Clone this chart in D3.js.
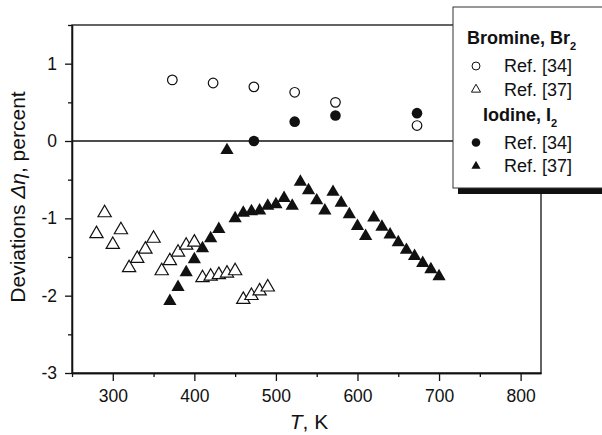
<!DOCTYPE html>
<html>
<head>
<meta charset="utf-8">
<script src="https://cdn.jsdelivr.net/npm/d3@7"></script>
<style>
  body { margin: 0; background: #fff; }
  svg { font-family: "Liberation Sans", Arial, sans-serif; }
  .axis path, .axis line { stroke: #111; stroke-width: 1.3; }
  .axis text { font-size: 17.5px; fill: #111; }
</style>
</head>
<body>
<div id="vis"></div>
<script>
// Bromine, Ref. [34]
var brT34 = [373, 423, 473, 523, 573, 673]
var brDev34 = [0.79, 0.75, 0.70, 0.63, 0.50, 0.20]
// Bromine, Ref. [37]
var brT37 = [280, 290, 300, 310, 320, 330, 340, 350, 360, 370, 380, 390, 400, 410, 420, 430, 440, 450, 460, 470, 480, 490]
var brDev37 = [-1.20, -0.93, -1.34, -1.15, -1.64, -1.52, -1.40, -1.26, -1.68, -1.55, -1.44, -1.35, -1.31, -1.77, -1.75, -1.73, -1.71, -1.68, -2.05, -2.00, -1.94, -1.89]
// Iodine, Ref. [34]
var iT34 = [473, 523, 573, 673]
var iDev34 = [0.00, 0.25, 0.33, 0.36]
// Iodine, Ref. [37]
var iT37 = [370, 380, 390, 400, 410, 420, 430, 440, 450, 460, 470, 480, 490, 500, 510, 520, 530, 540, 550, 560, 570, 580, 590, 600, 610, 620, 630, 640, 650, 660, 670, 680, 690, 700]
var iDev37 = [-2.07, -1.89, -1.70, -1.53, -1.39, -1.26, -1.14, -0.12, -1.00, -0.93, -0.91, -0.90, -0.84, -0.82, -0.74, -0.84, -0.53, -0.64, -0.77, -0.90, -0.66, -0.80, -0.95, -1.10, -1.23, -0.99, -1.11, -1.21, -1.31, -1.41, -1.49, -1.58, -1.66, -1.75]

var xTicks = [300, 400, 500, 600, 700, 800]
var xMinor = [250, 350, 450, 550, 650, 750]
var yTicks = [-3, -2, -1, 0, 1]
var yMinor = [-2.5, -1.5, -0.5, 0.5, 1.5]

var legendRows = [
  {label: "Ref. [34]", symbol: "circle", filled: false},
  {label: "Ref. [37]", symbol: "triangle", filled: false},
  {label: "Ref. [34]", symbol: "circle", filled: true},
  {label: "Ref. [37]", symbol: "triangle", filled: true}
]

var W = 602, H = 435
var margin = {top: 25, right: 61, bottom: 62, left: 72}

var svg = d3.select("#vis").append("svg")
    .attr("width", W)
    .attr("height", H)

var x = d3.scaleLinear().domain([250, 825]).range([margin.left, W - margin.right])
var y = d3.scaleLinear().domain([-3, 1.5]).range([H - margin.bottom, margin.top])

function zip(a, b) { return a.map(function(v, i) { return {t: v, d: b[i]} }) }

// frame (top and right edges) + zero line
svg.append("rect")
    .attr("x", x(250)).attr("y", y(1.5))
    .attr("width", x(825) - x(250)).attr("height", y(-3) - y(1.5))
    .attr("fill", "none").attr("stroke", "#111").attr("stroke-width", 1.3)

svg.append("line")
    .attr("x1", x(250)).attr("x2", x(825))
    .attr("y1", y(0)).attr("y2", y(0))
    .attr("stroke", "#111").attr("stroke-width", 1.3)

// axes: minor then major
svg.append("g").attr("class", "axis")
    .attr("transform", "translate(0," + y(-3) + ")")
    .call(d3.axisBottom(x).tickValues(xMinor).tickSize(4).tickFormat("").tickSizeOuter(0))
svg.append("g").attr("class", "axis")
    .attr("transform", "translate(0," + y(-3) + ")")
    .call(d3.axisBottom(x).tickValues(xTicks).tickSize(8).tickPadding(9).tickSizeOuter(0))

svg.append("g").attr("class", "axis")
    .attr("transform", "translate(" + x(250) + ",0)")
    .call(d3.axisLeft(y).tickValues(yMinor).tickSize(4).tickFormat("").tickSizeOuter(0))
svg.append("g").attr("class", "axis")
    .attr("transform", "translate(" + x(250) + ",0)")
    .call(d3.axisLeft(y).tickValues(yTicks).tickSize(7).tickPadding(8).tickSizeOuter(0)
        .tickFormat(function(d) { return String(d) }))

// axis titles
var yt = svg.append("text")
    .attr("transform", "translate(25,197) rotate(-90)")
    .attr("text-anchor", "middle")
    .style("font-size", "21px").style("fill", "#111")
yt.append("tspan").text("Deviations ")
yt.append("tspan").style("font-style", "italic").text("Δη")
yt.append("tspan").text(", percent")

var xt = svg.append("text")
    .attr("x", 309).attr("y", 429)
    .attr("text-anchor", "middle")
    .style("font-size", "21px").style("fill", "#111")
xt.append("tspan").style("font-style", "italic").text("T")
xt.append("tspan").text(", K")

// markers
var tri = d3.symbol().type(d3.symbolTriangle).size(76)

svg.append("g").selectAll("path")
    .data(zip(brT37, brDev37)).enter().append("path")
    .attr("d", tri)
    .attr("transform", function(d) { return "translate(" + x(d.t) + "," + y(d.d) + ")" })
    .attr("fill", "#fff").attr("stroke", "#111").attr("stroke-width", 1.2)

svg.append("g").selectAll("path")
    .data(zip(iT37, iDev37)).enter().append("path")
    .attr("d", tri)
    .attr("transform", function(d) { return "translate(" + x(d.t) + "," + y(d.d) + ")" })
    .attr("fill", "#111")

svg.append("g").selectAll("circle")
    .data(zip(brT34, brDev34)).enter().append("circle")
    .attr("cx", function(d) { return x(d.t) }).attr("cy", function(d) { return y(d.d) })
    .attr("r", 4.8)
    .attr("fill", "#fff").attr("stroke", "#111").attr("stroke-width", 1.2)

svg.append("g").selectAll("circle")
    .data(zip(iT34, iDev34)).enter().append("circle")
    .attr("cx", function(d) { return x(d.t) }).attr("cy", function(d) { return y(d.d) })
    .attr("r", 5.3)
    .attr("fill", "#111")

// legend box with shadow
var lg = svg.append("g")
lg.append("rect")
    .attr("x", 458).attr("y", 12).attr("width", 160).attr("height", 182)
    .attr("fill", "#111")
lg.append("rect")
    .attr("x", 453).attr("y", 7).attr("width", 160).attr("height", 181)
    .attr("fill", "#fff").attr("stroke", "#333").attr("stroke-width", 1)

function heading(tx, ty, main, sub) {
  var t = lg.append("text")
      .attr("x", tx).attr("y", ty)
      .style("font-size", "18px").style("font-weight", "bold").style("fill", "#111")
  t.append("tspan").text(main)
  t.append("tspan").attr("dy", 6).style("font-size", "11px").text(sub)
}
heading(467, 44, "Bromine, Br", "2")
heading(483, 120.5, "Iodine, I", "2")

var rowY = [72, 95.5, 148.5, 172]
var smallTri = d3.symbol().type(d3.symbolTriangle).size(36)

legendRows.forEach(function(r, i) {
  var cy = rowY[i] - 6
  if (r.symbol == "circle") {
    lg.append("circle")
        .attr("cx", 476).attr("cy", cy).attr("r", r.filled ? 4.3 : 4)
        .attr("fill", r.filled ? "#111" : "#fff")
        .attr("stroke", "#111").attr("stroke-width", r.filled ? 0 : 1)
  } else {
    lg.append("path")
        .attr("d", smallTri)
        .attr("transform", "translate(476," + cy + ")")
        .attr("fill", r.filled ? "#111" : "#fff")
        .attr("stroke", "#111").attr("stroke-width", r.filled ? 0 : 1)
  }
  lg.append("text")
      .attr("x", 504).attr("y", rowY[i])
      .style("font-size", "18px").style("fill", "#111")
      .text(r.label)
})
</script>
</body>
</html>
